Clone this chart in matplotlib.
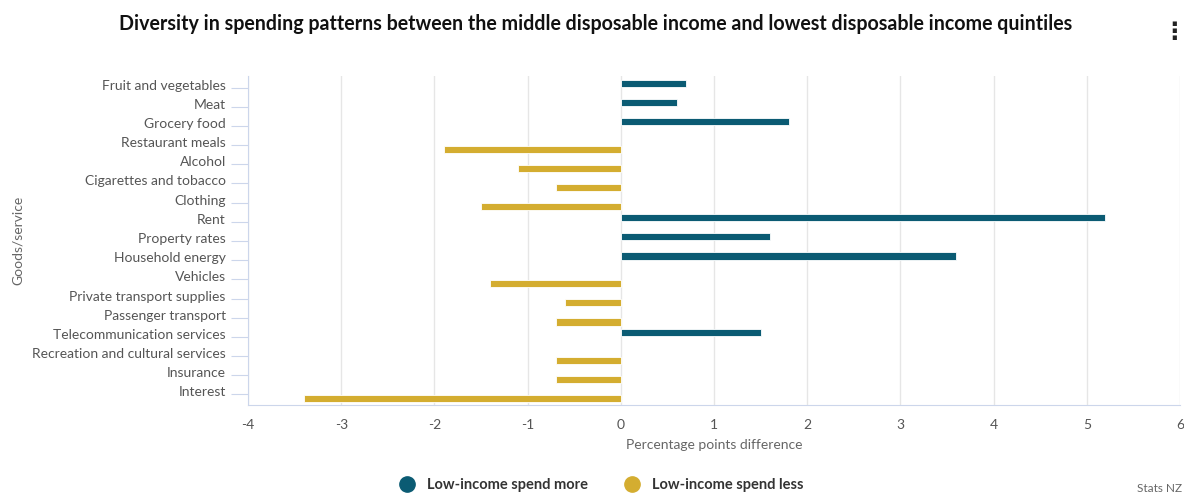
"""
Diversity in spending patterns — middle vs lowest disposable income quintiles
"""
import numpy as np
import matplotlib
matplotlib.use('Agg')
import matplotlib.pyplot as plt
from matplotlib.lines import Line2D
from matplotlib.transforms import ScaledTranslation

plt.rcParams['font.family'] = ['Lato', 'DejaVu Sans']

categories = [
    'Fruit and vegetables', 'Meat', 'Grocery food', 'Restaurant meals',
    'Alcohol', 'Cigarettes and tobacco', 'Clothing', 'Rent',
    'Property rates', 'Household energy', 'Vehicles',
    'Private transport supplies', 'Passenger transport',
    'Telecommunication services', 'Recreation and cultural services',
    'Insurance', 'Interest',
]
# None = no bar in that series
spend_more = [0.7, 0.6, 1.8, None, None, None, None, 5.2,
              1.6, 3.6, None, None, None, 1.5, None, None, None]
spend_less = [None, None, None, -1.9, -1.1, -0.7, -1.5, None,
              None, None, -1.4, -0.6, -0.7, None, -0.7, -0.7, -3.4]
x_ticks = [-4, -3, -2, -1, 0, 1, 2, 3, 4, 5, 6]

BLUE = '#0b5b73'
GOLD = '#d4ad30'
TXT = '#666666'

fig = plt.figure(figsize=(11.84, 4.94), dpi=100)
ax = fig.add_axes([248 / 1184, 1 - 405 / 494, 932 / 1184, 329 / 494])

y = np.arange(len(categories))
more = np.array([np.nan if v is None else v for v in spend_more])
less = np.array([np.nan if v is None else v for v in spend_less])

off = 0.22
h = 0.38
mask = ~np.isnan(more)
ax.barh(y[mask] - off, more[mask], height=h, color=BLUE,
        edgecolor='white', linewidth=0.6, zorder=3)
mask = ~np.isnan(less)
ax.barh(y[mask] + off, less[mask], height=h, color=GOLD,
        edgecolor='white', linewidth=0.6, zorder=3)

ax.set_ylim(len(categories) - 0.45, -0.6)
ax.set_xlim(-4, 6)
ax.set_yticks(y)
ax.set_yticklabels(categories)
ax.set_xticks(x_ticks)
ax.set_xticklabels([str(t) for t in x_ticks])

ax.grid(axis='x', color='#e6e6e6', linewidth=1, zorder=0)
ax.set_axisbelow(True)
for s in ['top', 'right']:
    ax.spines[s].set_visible(False)
ax.spines['left'].set_color('#ccd6eb')
ax.spines['bottom'].set_color('#ccd6eb')
ax.tick_params(axis='y', length=12, color='#ccd6eb', labelsize=10,
               labelcolor='#555555', pad=4)
ax.tick_params(axis='x', length=0, labelsize=10, labelcolor='#555555', pad=10)

# labels sit a little above their tick, as in the original
shift = ScaledTranslation(0, 3 / 100, fig.dpi_scale_trans)
for lab in ax.get_yticklabels():
    lab.set_transform(lab.get_transform() + shift)

ax.set_xlabel('Percentage points difference', fontsize=10, color=TXT, labelpad=6)
fig.text(18 / 1184, 1 - 240 / 494, 'Goods/service', rotation=90,
         fontsize=10, color=TXT, ha='center', va='center')

fig.text(596 / 1184, 1 - 24 / 494,
         'Diversity in spending patterns between the middle disposable income and lowest disposable income quintiles',
         fontsize=14.1, fontweight='bold', color='#111111', ha='center', va='center')
fig.text(1174 / 1184, 1 - 32 / 494, '\u22ee', fontsize=17, fontweight='bold',
         color='#222222', ha='center', va='center', family=['DejaVu Sans'])

handles = [
    Line2D([], [], marker='o', linestyle='none', markersize=11,
           markerfacecolor=BLUE, markeredgecolor=BLUE, label='Low-income spend more'),
    Line2D([], [], marker='o', linestyle='none', markersize=11,
           markerfacecolor=GOLD, markeredgecolor=GOLD, label='Low-income spend less'),
]
leg = fig.legend(handles=handles, loc='center', bbox_to_anchor=(598 / 1184, 1 - 485 / 494),
                 ncol=2, frameon=False, handletextpad=0.4, columnspacing=2.0,
                 prop={'size': 10.5, 'weight': 'bold'})
for t in leg.get_texts():
    t.set_color('#333333')

fig.text(1182 / 1184, 1 - 488 / 494, 'Stats NZ', fontsize=8.5, color=TXT,
         ha='right', va='center')

fig.savefig('out.png', dpi=100)
